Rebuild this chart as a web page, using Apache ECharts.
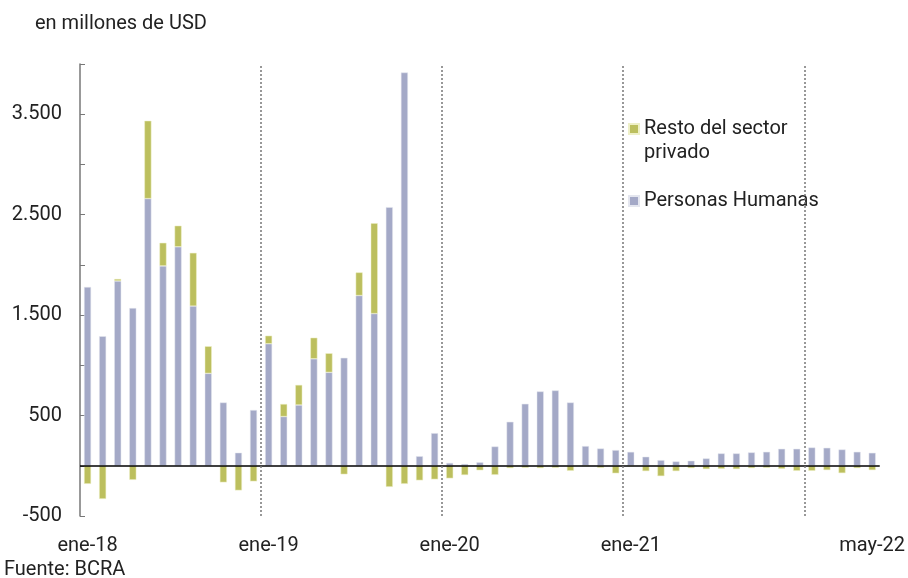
<!DOCTYPE html>
<html>
<head>
<meta charset="utf-8">
<script src="https://cdn.jsdelivr.net/npm/echarts@6/dist/echarts.min.js"></script>
<style>
  html, body { margin: 0; padding: 0; background: #fff; overflow: hidden; }
  #chart { width: 908px; height: 578px; }
</style>
</head>
<body>
<div id="chart"></div>
<script>
const months = [
  'ene-18', 'feb-18', 'mar-18', 'abr-18', 'may-18', 'jun-18', 'jul-18', 'ago-18', 'sep-18', 'oct-18', 'nov-18', 'dic-18',
  'ene-19', 'feb-19', 'mar-19', 'abr-19', 'may-19', 'jun-19', 'jul-19', 'ago-19', 'sep-19', 'oct-19', 'nov-19', 'dic-19',
  'ene-20', 'feb-20', 'mar-20', 'abr-20', 'may-20', 'jun-20', 'jul-20', 'ago-20', 'sep-20', 'oct-20', 'nov-20', 'dic-20',
  'ene-21', 'feb-21', 'mar-21', 'abr-21', 'may-21', 'jun-21', 'jul-21', 'ago-21', 'sep-21', 'oct-21', 'nov-21', 'dic-21',
  'ene-22', 'feb-22', 'mar-22', 'abr-22', 'may-22'
]
// millones de USD
const personasHumanas = [
  1780, 1290, 1840, 1570, 2660, 1990, 2180, 1590, 920, 630, 130, 555,
  1215, 490, 605, 1065, 930, 1075, 1695, 1515, 2575, 3915, 95, 325,
  28, 18, 35, 192, 438, 617, 740, 750, 630, 196, 172, 156,
  138, 90, 56, 43, 50, 73, 123, 123, 133, 139, 169, 169,
  182, 179, 162, 139, 129
]
const restoSectorPrivado = [
  -180, -330, 20, -140, 775, 230, 210, 530, 270, -165, -245, -155,
  80, 125, 200, 210, 190, -85, 230, 900, -210, -180, -145, -135,
  -125, -92, -45, -90, -23, -20, -23, -20, -50, -3, -20, -75,
  -5, -53, -103, -53, -23, -33, -30, -33, -23, -20, -30, -50,
  -50, -43, -73, -23, -43
]
const shownLabels = ['ene-18', 'ene-19', 'ene-20', 'ene-21', 'may-22']
// separadores de año (índice del primer mes de cada año)
const yearStarts = [12, 24, 36, 48]

const chart = echarts.init(document.getElementById('chart'))
const font = 'Roboto'
const option = {
  animation: false,
  textStyle: { fontFamily: font },
  title: [
    {
      text: 'en millones de USD',
      left: 35,
      top: 14,
      padding: 0,
      textStyle: { fontSize: 20, fontWeight: 'normal', color: '#222', fontFamily: font }
    },
    {
      text: 'Fuente: BCRA',
      left: 4,
      top: 560,
      padding: 0,
      textStyle: { fontSize: 20, fontWeight: 'normal', color: '#222', fontFamily: font }
    }
  ],
  legend: [
    {
      data: ['Resto del sector privado'],
      left: 628,
      top: 93,
      padding: 0,
      itemWidth: 10,
      itemHeight: 10,
      icon: 'rect',
      formatter: () => ' \nResto del sector\nprivado',
      textStyle: { fontSize: 20, color: '#222', lineHeight: 24, fontFamily: font }
    },
    {
      data: ['Personas Humanas'],
      left: 628,
      top: 189,
      padding: 0,
      itemWidth: 10,
      itemHeight: 10,
      icon: 'rect',
      textStyle: { fontSize: 20, color: '#222', lineHeight: 24, fontFamily: font }
    }
  ],
  grid: { left: 80, right: 20, top: 64, bottom: 62 },
  xAxis: [
    {
      type: 'category',
      data: months,
      axisLine: { show: false },
      axisTick: { show: false },
      axisLabel: {
        interval: 0,
        formatter: v => (shownLabels.includes(v) ? v : ''),
        color: '#222',
        fontSize: 20,
        margin: 20,
        fontFamily: font
      },
      splitLine: { show: false }
    },
    {
      // eje auxiliar para las líneas punteadas entre años
      type: 'value',
      min: 0,
      max: months.length,
      show: false
    }
  ],
  yAxis: {
    type: 'value',
    min: -500,
    max: 4000,
    interval: 500,
    axisLine: { show: true, lineStyle: { color: '#777', width: 1.5 } },
    axisTick: { show: true, inside: true, length: 5, lineStyle: { color: '#777' } },
    splitLine: { show: false },
    axisLabel: {
      formatter: v => ((v + 500) % 1000 === 0 && v < 4000 ? echarts.format.addCommas(v).replace(/,/g, '.') : ''),
      color: '#222',
      fontSize: 20,
      margin: 18,
      fontFamily: font
    }
  },
  series: [
    {
      name: 'Personas Humanas',
      type: 'bar',
      stack: 'total',
      data: personasHumanas,
      barWidth: 7,
      itemStyle: { color: '#a4a9c7', borderColor: '#e4e6ef', borderWidth: 0.5 },
      markLine: {
        silent: true,
        symbol: 'none',
        label: { show: false },
        lineStyle: { color: '#000', width: 1.5, type: 'solid' },
        data: [{ yAxis: 0 }]
      }
    },
    {
      name: 'Resto del sector privado',
      type: 'bar',
      stack: 'total',
      data: restoSectorPrivado,
      barWidth: 7,
      itemStyle: { color: '#bcbf5e', borderColor: '#eef0c8', borderWidth: 0.5 }
    },
    {
      name: 'separadores',
      type: 'scatter',
      xAxisIndex: 1,
      data: [],
      silent: true,
      markLine: {
        silent: true,
        symbol: 'none',
        label: { show: false },
        lineStyle: { color: '#777', width: 1.5, type: [2, 2] },
        data: yearStarts.map(i => ({ xAxis: i }))
      }
    }
  ]
}
chart.setOption(option)
window.addEventListener('resize', () => chart.resize())
</script>
</body>
</html>
